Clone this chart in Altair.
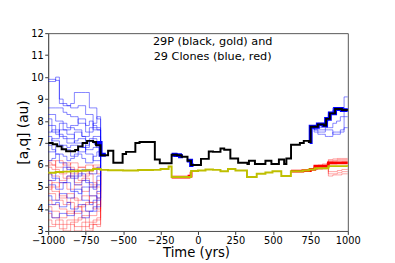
import altair as alt
import pandas as pd

# ---- data ----
BLACK_T = [-1000, -970, -940, -910, -880, -820, -800, -770, -740, -700, -680, -650, -600, -565, -503,
           -480, -418, -390, -288, -255, -176, -140, -110, -70, -46, 20, 72, 100, 150, 175, 216, 268,
           330, 340, 380, 450, 490, 540, 575, 590, 621, 680, 706, 740, 752, 800, 840, 855, 880, 915, 960, 1000]
BLACK_V = [7.0, 6.95, 6.85, 6.72, 6.63, 6.68, 6.85, 7.0, 7.1, 7.05, 6.9, 6.45, 6.65, 6.1, 6.5,
           6.6, 7.0, 7.05, 6.25, 6.08, 6.47, 6.45, 6.38, 6.2, 6.0, 6.28, 6.62, 6.6, 6.75, 6.7, 6.3, 6.1,
           6.05, 6.2, 6.05, 6.2, 6.05, 6.25, 6.05, 6.3, 6.92, 7.0, 7.1, 7.05, 7.74, 7.85, 7.8, 8.1, 8.35, 8.55, 8.5, 8.48]

GOLD_T = [-1000, -950, -900, -850, -800, -750, -700, -650, -600, -500, -400, -300, -250, -196, -176,
          -46, 0, 50, 100, 150, 200, 250, 327, 392, 450, 497, 556, 620, 700, 740, 780, 870, 1000]
GOLD_V = [5.65, 5.68, 5.7, 5.72, 5.74, 5.76, 5.82, 5.78, 5.76, 5.75, 5.77, 5.78, 5.82, 5.93, 5.46,
          5.73, 5.75, 5.8, 5.78, 5.72, 5.82, 5.75, 5.46, 5.6, 5.66, 5.72, 5.5, 5.72, 5.75, 5.8, 5.85, 5.95, 6.0]

EARLY_T = [-1000, -975, -950, -925, -900, -875, -850, -825, -800, -775, -750, -725, -700, -675, -650]
BLUE_EARLY = [
    [9.9, 9.9, 9.85, 8.8, 8.8, 8.7, 8.6, 8.6, 8.7, 8.7, 8.3, 8.3, 7.6, 7.6, 6.45],
    [9.8, 9.8, 10.0, 9.0, 8.7, 8.7, 8.8, 9.3, 9.3, 9.3, 9.3, 8.6, 8.6, 8.1, 6.45],
    [8.6, 8.6, 8.6, 8.6, 8.4, 8.3, 8.2, 8.2, 7.9, 7.9, 7.8, 8.0, 7.8, 7.7, 6.45],
    [8.1, 7.5, 7.5, 7.9, 7.9, 7.7, 7.7, 7.6, 7.6, 7.3, 7.3, 7.7, 7.7, 7.6, 6.45],
    [7.8, 7.8, 7.4, 7.4, 7.3, 7.2, 7.2, 7.5, 7.5, 7.3, 7.1, 7.1, 7.3, 7.3, 6.45],
    [7.5, 7.6, 7.6, 7.3, 7.2, 7.0, 7.0, 7.1, 7.2, 7.2, 6.7, 6.7, 6.8, 7.0, 6.45],
    [7.3, 7.1, 7.1, 6.9, 6.9, 6.8, 6.9, 6.9, 6.6, 6.6, 6.9, 7.1, 7.0, 6.9, 6.45],
    [6.9, 6.7, 6.5, 6.5, 6.4, 6.2, 6.3, 6.5, 6.5, 6.3, 6.1, 6.1, 6.4, 6.6, 6.45],
    [6.2, 6.3, 6.5, 6.1, 6.1, 5.8, 5.8, 5.5, 5.5, 5.8, 5.8, 5.6, 5.6, 5.9, 6.45],
    [5.6, 5.4, 5.4, 5.2, 5.2, 5.5, 5.5, 5.1, 5.1, 5.3, 5.3, 5.0, 5.0, 5.5, 6.45],
    [5.1, 5.1, 4.9, 4.9, 5.2, 5.2, 4.8, 4.8, 4.7, 5.0, 5.0, 4.6, 4.6, 4.5, 6.45],
    [4.6, 4.4, 4.4, 4.7, 4.7, 4.5, 4.5, 4.9, 4.9, 4.4, 4.4, 4.2, 4.4, 4.8, 6.45],
    [4.2, 4.2, 4.3, 4.1, 4.1, 4.3, 4.0, 4.0, 4.2, 4.2, 3.9, 3.9, 4.1, 4.1, 6.45],
    [3.9, 3.6, 3.6, 3.8, 3.8, 3.7, 3.7, 3.9, 3.9, 3.6, 3.6, 3.9, 3.9, 4.4, 6.45],
    [8.3, 8.3, 8.0, 8.0, 7.6, 7.6, 7.8, 7.8, 8.1, 8.1, 7.5, 7.5, 7.9, 8.2, 6.45],
    [7.0, 7.2, 7.2, 7.6, 7.6, 7.4, 7.4, 7.0, 7.0, 6.8, 6.8, 7.2, 7.2, 6.8, 6.45],
    [6.6, 6.6, 6.9, 6.9, 6.7, 6.7, 6.4, 6.4, 6.8, 6.8, 6.5, 6.5, 6.2, 6.2, 6.45],
    [5.3, 5.3, 5.7, 5.7, 5.9, 5.9, 5.4, 5.4, 5.6, 5.6, 5.2, 5.2, 4.9, 5.1, 6.45],
]
RED_EARLY = [
    [6.1, 6.0, 6.2, 6.2, 6.0, 6.0, 6.1, 6.1, 5.9, 5.9, 6.0, 6.0, 5.9, 5.9, 5.8],
    [5.9, 5.8, 5.8, 5.6, 5.6, 5.9, 5.9, 5.7, 5.7, 5.5, 5.5, 5.8, 5.8, 5.6, 5.8],
    [5.6, 5.5, 5.5, 5.3, 5.3, 5.5, 5.5, 5.2, 5.2, 5.4, 5.4, 5.1, 5.1, 5.3, 5.8],
    [5.3, 5.0, 5.0, 5.2, 5.2, 4.9, 4.9, 5.1, 5.1, 4.8, 4.8, 5.0, 5.0, 4.7, 5.8],
    [5.0, 4.8, 4.8, 4.5, 4.5, 4.7, 4.7, 4.4, 4.4, 4.6, 4.6, 4.3, 4.3, 4.5, 5.8],
    [4.7, 4.7, 4.4, 4.4, 4.2, 4.2, 4.5, 4.5, 4.1, 4.1, 4.3, 4.3, 4.0, 4.2, 5.8],
    [4.4, 4.2, 4.2, 4.0, 4.0, 3.8, 3.8, 4.1, 4.1, 3.9, 3.9, 3.7, 3.7, 3.9, 5.8],
    [4.1, 3.9, 3.9, 3.6, 3.6, 3.9, 3.9, 3.5, 3.5, 3.7, 3.7, 3.4, 3.4, 3.6, 5.8],
    [3.8, 3.6, 3.6, 3.3, 3.3, 3.5, 3.5, 3.2, 3.2, 3.4, 3.4, 3.1, 3.5, 3.5, 5.8],
    [3.5, 3.3, 3.3, 3.1, 3.1, 3.3, 3.3, 3.0, 3.0, 3.2, 3.2, 3.3, 3.3, 3.2, 5.8],
    [6.2, 6.2, 5.7, 5.7, 5.4, 5.4, 5.8, 5.8, 5.3, 5.3, 5.6, 5.6, 5.2, 5.0, 5.8],
    [4.9, 5.2, 5.2, 4.6, 4.6, 4.3, 4.3, 3.8, 3.8, 4.2, 4.2, 4.6, 4.6, 4.0, 5.8],
    [6.0, 6.0, 5.9, 5.9, 6.1, 6.1, 5.6, 5.6, 5.9, 5.9, 5.7, 5.7, 6.0, 6.0, 5.8],
    [3.2, 3.2, 3.5, 3.5, 3.0, 3.0, 3.4, 3.4, 3.6, 3.6, 3.0, 3.0, 3.3, 3.3, 5.8],
]

LATE_B_T = [752, 775, 800, 825, 850, 870, 900, 925, 950, 975, 1000]
BLUE_LATE = [
    [7.7, 7.6, 7.5, 7.5, 7.6, 7.6, 7.4, 7.4, 7.6, 9.1, 9.1],
    [7.7, 7.5, 7.4, 7.4, 7.3, 7.3, 7.5, 7.5, 7.5, 7.7, 7.7],
    [7.7, 7.65, 7.7, 7.8, 8.0, 8.3, 8.5, 8.55, 8.55, 8.5, 8.5],
    [7.75, 7.8, 7.9, 7.9, 8.1, 8.4, 8.6, 8.6, 8.6, 8.55, 8.55],
    [7.7, 7.6, 7.6, 7.6, 7.7, 7.7, 7.9, 8.0, 8.2, 8.2, 8.2],
]
LATE_R_T = [770, 800, 830, 860, 870, 900, 930, 960, 1000]
RED_LATE = [
    [5.95, 6.0, 6.05, 6.1, 6.25, 6.28, 6.3, 6.3, 6.3],
    [5.9, 5.95, 6.0, 6.05, 6.2, 6.22, 6.25, 6.25, 6.25],
    [5.9, 5.95, 5.95, 6.0, 6.15, 6.18, 6.2, 6.2, 6.2],
    [5.85, 5.9, 5.95, 5.98, 6.1, 6.1, 6.12, 6.15, 6.15],
    [5.85, 5.85, 5.9, 5.9, 5.7, 5.7, 5.75, 5.8, 5.8],
    [5.8, 5.85, 5.85, 5.85, 5.6, 5.6, 5.65, 5.7, 5.7],
    [5.8, 5.8, 5.82, 5.85, 5.5, 5.55, 5.55, 5.6, 5.6],
    [5.85, 5.9, 5.9, 5.95, 6.05, 6.05, 6.08, 6.1, 6.1],
]

# clone bundles hugging the 29P curves
BLUE_CORE = [
    ([-690, -650, -615], [7.0, 6.47, 6.47]),
    ([-176, -150, -120, -100], [6.47, 6.45, 6.4, 6.4]),
    ([-75, -46, -30], [6.2, 6.0, 6.0]),
    ([745, 752, 800, 840, 855, 880, 915, 960, 1000], [7.05, 7.74, 7.85, 7.8, 8.1, 8.35, 8.55, 8.5, 8.48]),
]
RED_CORE = [
    ([-176, -100, -60, -46], [5.45, 5.45, 5.5, 5.7]),
    ([620, 700, 750, 780, 870, 1000], [5.72, 5.75, 5.8, 5.95, 6.1, 6.1]),
]

TITLE_LINES = ["29P (black, gold) and", "29 Clones (blue, red)"]
TITLE_T = [98, 98]
TITLE_V = [11.44, 10.78]

X_TICKS = [-1000, -750, -500, -250, 0, 250, 500, 750, 1000]
Y_TICKS = [3, 4, 5, 6, 7, 8, 9, 10, 11, 12]


def rows(groups, times=None):
    out = []
    for i, g in enumerate(groups):
        if times is None:
            ts, vs = g
        else:
            ts, vs = times, g
        for t, v in zip(ts, vs):
            out.append({"s": i, "t": t, "v": v})
    return pd.DataFrame(out)


blue_df = pd.concat([rows(BLUE_EARLY, EARLY_T),
                     rows(BLUE_LATE, LATE_B_T).assign(s=lambda d: d.s + 100)])
red_df = pd.concat([rows(RED_EARLY, EARLY_T),
                    rows(RED_LATE, LATE_R_T).assign(s=lambda d: d.s + 100)])
bcore_df = rows(BLUE_CORE)
rcore_df = rows(RED_CORE)
black_df = pd.DataFrame({"t": BLACK_T, "v": BLACK_V})
gold_df = pd.DataFrame({"t": GOLD_T, "v": GOLD_V})
text_df = pd.DataFrame({"t": TITLE_T, "v": TITLE_V, "txt": TITLE_LINES})

x_enc = alt.X("t:Q", scale=alt.Scale(domain=[-1000, 1000], nice=False),
              axis=alt.Axis(values=X_TICKS, title="Time (yrs)",
                            labelExpr="replace(format(datum.value, 'd'), '-', '\u2212')",
                            labelOverlap=False, labelFlush=False, labelPadding=1,
                            titleFontSize=13.5, titleFontWeight="normal",
                            titleX=151, titleY=26.5, titleBaseline="alphabetic"))
y_enc = alt.Y("v:Q", scale=alt.Scale(domain=[3, 12], nice=False),
              axis=alt.Axis(values=Y_TICKS, title="[a,q] (au)", format="d",
                            labelOverlap=False, labelFlush=False,
                            titleFontSize=14, titleFontWeight="normal",
                            titleX=-21.5, titleY=101, titleAngle=-90,
                            titleAlign="center", titleBaseline="alphabetic"))

step = dict(interpolate="step-after", clip=True)

red_l = alt.Chart(red_df).mark_line(color="#ff0000", opacity=0.45, strokeWidth=0.8, **step).encode(
    x=x_enc, y=y_enc, detail="s:N")
blue_l = alt.Chart(blue_df).mark_line(color="#0000ff", opacity=0.6, strokeWidth=0.8, **step).encode(
    x=x_enc, y=y_enc, detail="s:N")
rcore_l = alt.Chart(rcore_df).mark_line(color="#ff0000", strokeWidth=2.8, **step).encode(
    x=x_enc, y=y_enc, detail="s:N")
bcore_l = alt.Chart(bcore_df).mark_line(color="#0000ff", strokeWidth=4, **step).encode(
    x=x_enc, y=y_enc, detail="s:N")
gold_l = alt.Chart(gold_df).mark_line(color="#bfbf00", strokeWidth=2, **step).encode(
    x=x_enc, y=y_enc)
black_l = alt.Chart(black_df).mark_line(color="#000000", strokeWidth=2, **step).encode(
    x=x_enc, y=y_enc)
text_l = alt.Chart(text_df).mark_text(font="DejaVu Sans", fontSize=11.5, color="#000000",
                                      align="center", baseline="alphabetic").encode(
    x=x_enc, y=y_enc, text="txt:N")

chart = alt.layer(red_l, blue_l, rcore_l, bcore_l, gold_l, black_l, text_l).properties(
    width=306, height=202,
    autosize=alt.AutoSizeParams(type="none"),
    padding={"left": 41, "top": 23, "right": 40, "bottom": 30},
).configure_view(stroke="#555555", strokeWidth=1).configure_axis(
    grid=False, domainColor="#555555", tickColor="#333333", tickSize=3.5,
    labelFont="DejaVu Sans", labelFontSize=10, labelColor="#000000", labelPadding=1.5,
    titleFont="DejaVu Sans", titleColor="#000000"
)

chart.save("out.html", embed_options={"renderer": "svg", "actions": False})
